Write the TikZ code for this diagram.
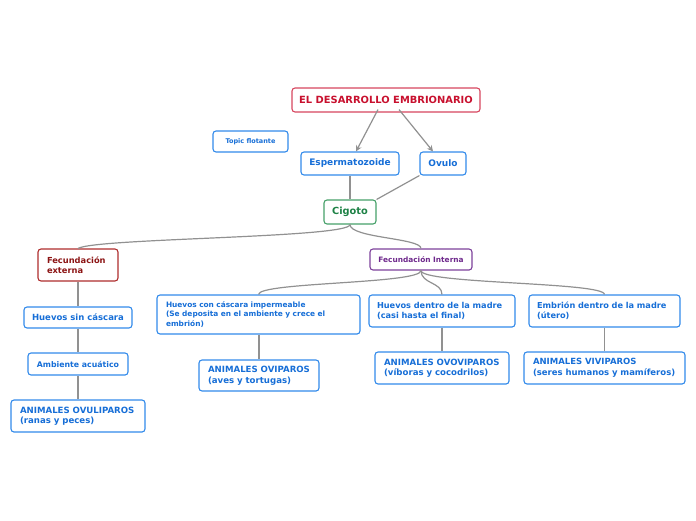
\documentclass[tikz,border=0pt]{standalone}
\usepackage{fontspec}
\setmainfont{DejaVu Sans}
\usepackage{tikz}
\usetikzlibrary{arrows.meta}

\definecolor{bluetext}{RGB}{22,110,215}
\definecolor{blueline}{RGB}{50,138,235}
\definecolor{roottext}{RGB}{200,16,46}
\definecolor{rootline}{RGB}{215,70,95}
\definecolor{greentext}{RGB}{30,130,70}
\definecolor{greenline}{RGB}{70,160,105}
\definecolor{redtext}{RGB}{140,20,20}
\definecolor{redline}{RGB}{175,45,45}
\definecolor{purpletext}{RGB}{110,40,140}
\definecolor{purpleline}{RGB}{125,65,155}
\definecolor{linkgray}{RGB}{145,145,145}

\tikzset{
  box/.style={draw, rounded corners=3pt, fill=white, line width=1.1pt, inner sep=0pt, font=\bfseries},
  bluebox/.style={box, draw=blueline, text=bluetext},
  twoline/.style={inner xsep=9pt, align=left},
  link/.style={draw=linkgray, line width=1.2pt},
  arrowlink/.style={link, -{Stealth[length=6pt,width=6pt]}}
}

\begin{document}
\begin{tikzpicture}[x=1pt,y=-1pt]
\useasboundingbox (0,0) rectangle (696,520);

\node[box, draw=rootline, text=roottext, minimum width=188pt, minimum height=24pt,
  font=\bfseries\fontsize{9.9}{11}\selectfont] (root) at (386,100) {EL DESARROLLO EMBRIONARIO};
\node[bluebox, minimum width=75pt, minimum height=21pt,
  font=\bfseries\fontsize{6.5}{7.5}\selectfont] (topic) at (250.5,141.5) {Topic flotante};
\node[bluebox, minimum width=98pt, minimum height=23pt,
  font=\bfseries\fontsize{9}{10}\selectfont] (esperma) at (350,163.5) {Espermatozoide};
\node[bluebox, minimum width=46pt, minimum height=23pt,
  font=\bfseries\fontsize{9}{10}\selectfont] (ovulo) at (443,163.5) {Ovulo};
\node[box, draw=greenline, text=greentext, minimum width=52pt, minimum height=24pt,
  font=\bfseries\fontsize{9.8}{11}\selectfont] (cigoto) at (350,212) {Cigoto};

\node[box, twoline, draw=redline, text=redtext, text width=62pt, minimum height=32pt,
  font=\bfseries\fontsize{8.3}{10}\selectfont] (fext) at (78,265) {Fecundación\\externa};
\node[box, draw=purpleline, text=purpletext, minimum width=102pt, minimum height=21pt,
  font=\bfseries\fontsize{7.4}{8}\selectfont] (fint) at (421,259.5) {Fecundación Interna};

% rama externa
\node[bluebox, minimum width=108pt, minimum height=21pt,
  font=\bfseries\fontsize{8.5}{10}\selectfont] (sincascara) at (78,317.5) {Huevos sin cáscara};
\node[bluebox, minimum width=100pt, minimum height=22pt,
  font=\bfseries\fontsize{7.8}{9}\selectfont] (acuatico) at (78,364) {Ambiente acuático};
\node[bluebox, twoline, text width=116pt, minimum height=32pt,
  font=\bfseries\fontsize{8.6}{10.5}\selectfont] (ovuliparos) at (78,416) {ANIMALES OVULIPAROS\\(ranas y peces)};

% rama interna
\node[bluebox, twoline, text width=185pt, minimum height=39pt,
  font=\bfseries\fontsize{7.4}{9.4}\selectfont] (concascara) at (258.5,314.5)
  {Huevos con cáscara impermeable\\(Se deposita en el ambiente y crece el\\embrión)};
\node[bluebox, twoline, text width=102pt, minimum height=31pt,
  font=\bfseries\fontsize{8.6}{10.5}\selectfont] (oviparos) at (259,375.5) {ANIMALES OVIPAROS\\(aves y tortugas)};
\node[bluebox, twoline, inner xsep=8pt, text width=130pt, minimum height=32pt,
  font=\bfseries\fontsize{8.2}{10.5}\selectfont] (dentro) at (442,311) {Huevos dentro de la madre\\(casi hasta el final)};
\node[bluebox, twoline, text width=116pt, minimum height=32pt,
  font=\bfseries\fontsize{8.6}{10.5}\selectfont] (ovoviparos) at (442,368) {ANIMALES OVOVIPAROS\\(víboras y cocodrilos)};
\node[bluebox, twoline, inner xsep=8pt, text width=135pt, minimum height=32pt,
  font=\bfseries\fontsize{8.2}{10.5}\selectfont] (embrion) at (604.5,311) {Embrión dentro de la madre\\(útero)};
\node[bluebox, twoline, text width=143pt, minimum height=32pt,
  font=\bfseries\fontsize{8.5}{10.5}\selectfont] (viviparos) at (604.5,368) {ANIMALES VIVIPAROS\\(seres humanos y mamíferos)};

% conexiones
\draw[arrowlink] ([xshift=-8pt,yshift=3pt]root.south) -- ([xshift=6pt]esperma.north);
\draw[arrowlink] ([xshift=13pt,yshift=3pt]root.south) -- ([xshift=-10pt]ovulo.north);
\draw[link] (esperma) -- (cigoto);
\draw[link] (ovulo.south west) -- (cigoto.north east);
\draw[link] (cigoto.south) .. controls (350,238) and (95,238) .. (fext.north);
\draw[link] (cigoto.south) .. controls (350,238) and (421,238) .. (fint.north);
\draw[link] (fext) -- (sincascara);
\draw[link] (sincascara) -- (acuatico);
\draw[link] (acuatico) -- (ovuliparos);
\draw[link] (fint.south) .. controls (421,284) and (258.5,282) .. (concascara.north);
\draw[link] (fint.south) .. controls (421,284) and (442,282) .. (dentro.north);
\draw[link] (fint.south) .. controls (421,284) and (604.5,282) .. (embrion.north);
\draw[link] (concascara.south -| oviparos.north) -- (oviparos.north);
\draw[link] (dentro) -- (ovoviparos);
\draw[link] (embrion) -- (viviparos);
\end{tikzpicture}
\end{document}
